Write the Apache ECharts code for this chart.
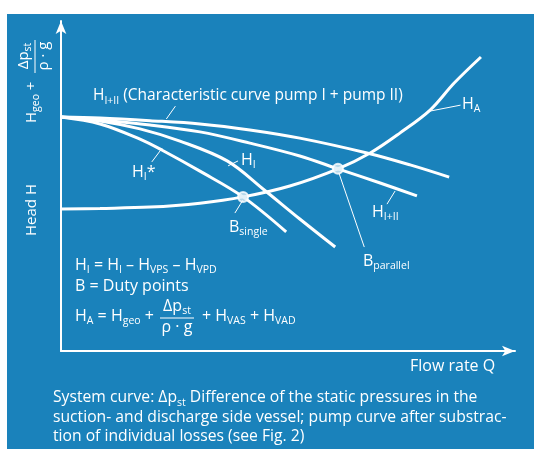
<!DOCTYPE html>
<html><head><meta charset="utf-8">
<script src="https://cdn.jsdelivr.net/npm/echarts@6/dist/echarts.min.js"></script>
<style>
html,body{margin:0;padding:0;background:#fff;}
#c{width:534px;height:449px;background:linear-gradient(#1a82bb,#1a82bb) 7px 14px/527px 435px no-repeat #fff;}
</style></head><body><div id="c"></div>
<script>
// ---- data (flow rate Q in % of axis, head H in % of axis) ----
const Q_HA   = [0, 8.6, 19.6, 30.6, 40.1, 50.4, 61.0, 68.1, 74.7, 81.3, 86.6, 92.5];
const H_HA   = [43.0, 43.2, 43.6, 44.8, 46.7, 50.0, 55.2, 60.0, 66.1, 73.0, 81.2, 89.1];
const Q_HIII = [0, 8.6, 19.6, 30.6, 41.6, 52.6, 67.4, 76.9, 85.5];
const H_HIII = [70.9, 70.6, 69.8, 68.8, 67.0, 64.5, 60.0, 56.4, 52.7];
const Q_HIIIr = [0, 8.6, 19.6, 30.6, 41.6, 52.6, 61.0, 70.3, 78.4];
const H_HIIIr = [70.9, 70.0, 68.5, 66.4, 63.0, 59.1, 55.2, 50.9, 47.0];
const Q_HI   = [0, 8.6, 17.4, 26.2, 36.6, 44.5, 52.6, 60.4];
const H_HI   = [70.9, 69.7, 67.3, 63.6, 57.6, 49.1, 40.0, 31.5];
const Q_HIs  = [0, 8.6, 17.4, 22.2, 30.6, 40.1, 49.6];
const H_HIs  = [70.9, 68.8, 64.2, 60.9, 54.5, 46.7, 36.1];
const Q_duty = [40.1, 61.0];
const H_duty = [46.7, 55.2];
// leader lines: [Q1,H1,Q2,H2]
const leaders = [
  [25.2, 74.2, 23.2, 70.3],
  [81.3, 72.7, 88.0, 74.5],
  [73.6, 48.5, 71.8, 44.5],
  [22.3, 61.5, 20.0, 57.3],
  [36.8, 56.1, 39.0, 57.6],
  [40.1, 45.8, 38.3, 41.8],
  [61.2, 54.0, 66.8, 31.5]
];

const FONT = "'Open Sans', sans-serif";
const W = '#ffffff';
const FS = 16;
const zip = (a, b) => a.map((v, i) => [v, b[i]]);
const RICH = {
  s: {fontSize: 10.5, fontFamily: FONT, fill: W, verticalAlign: 'bottom', height: 6}
};
function txt(x, y, text, extra, fs, align) {
  return Object.assign({
    type: 'text', x: x, y: y, silent: true,
    style: {text: text, fill: W, fontSize: fs || FS, fontFamily: FONT, verticalAlign: 'middle', align: align || 'left', rich: RICH}
  }, extra || {});
}
function hline(x1, y, x2) {
  return {type: 'line', silent: true, shape: {x1: x1, y1: y, x2: x2, y2: y}, style: {stroke: W, lineWidth: 1}};
}

const curve = (q, h) => ({
  type: 'line', data: zip(q, h), smooth: 0.35, symbol: 'none', silent: true,
  lineStyle: {color: W, width: 3}, z: 3
});

const series = [
  curve(Q_HA, H_HA), curve(Q_HIII, H_HIII), curve(Q_HIIIr, H_HIIIr), curve(Q_HI, H_HI), curve(Q_HIs, H_HIs)
];
leaders.forEach(l => series.push({
  type: 'line', data: [[l[0], l[1]], [l[2], l[3]]], symbol: 'none', silent: true,
  lineStyle: {color: W, width: 1}, z: 2
}));
series.push({
  type: 'scatter', data: zip(Q_duty, H_duty), symbol: 'circle', symbolSize: 10, silent: true,
  itemStyle: {color: '#dcedf6', borderColor: W, borderWidth: 2}, z: 5
});

const axisCommon = {
  type: 'value', min: 0, max: 100,
  axisLine: {show: true, onZero: false, lineStyle: {color: W, width: 2}, symbol: ['none', 'arrow'], symbolSize: [8, 13]},
  axisTick: {show: false}, axisLabel: {show: false}, splitLine: {show: false}
};

const graphics = [
  txt(93, 96, 'H{s|I+II} (Characteristic curve pump I + pump II)', null, 15.5),
  txt(462, 104, 'H{s|A}'),
  txt(372, 212, 'H{s|I+II}'),
  txt(132, 172, 'H{s|I}*'),
  txt(241, 160, 'H{s|I}'),
  txt(229, 227, 'B{s|single}'),
  txt(363, 261, 'B{s|parallel}'),
  txt(75, 265, 'H{s|I} = H{s|I} – H{s|VPS} – H{s|VPD}'),
  txt(75, 286, 'B = Duty points'),
  txt(75, 316, 'H{s|A} = H{s|geo} +'),
  txt(177, 306, 'Δp{s|st}', null, FS, 'center'),
  hline(160, 318, 194),
  txt(177, 327, 'ρ · g', null, FS, 'center'),
  txt(202, 316, '+ H{s|VAS} + H{s|VAD}'),
  txt(410, 366, 'Flow rate Q'),
  txt(53, 398, 'System curve: Δp{s|st} Difference of the static pressures in the', null, 15.7),
  txt(53, 418, 'suction- and discharge side vessel; pump curve after substrac-', null, 15.7),
  txt(53, 437, 'tion of individual losses (see Fig. 2)', null, 15.7),
  // y axis title
  {
    type: 'group', x: 32, y: 123, rotation: Math.PI / 2, silent: true,
    children: [
      txt(0, 0, 'H{s|geo} +', null, 15),
      txt(67, -8, 'Δp{s|st}', null, 15, 'center'),
      {type: 'line', silent: true, shape: {x1: 50, y1: 3, x2: 83, y2: 3}, style: {stroke: W, lineWidth: 1}},
      txt(67, 12, 'ρ · g', null, 15, 'center')
    ]
  },
  txt(32, 210, 'Head H', {rotation: Math.PI / 2}, 15, 'center')
];

const chart = echarts.init(document.getElementById('c'), null, {renderer: 'canvas'});
chart.setOption({
  backgroundColor: 'transparent',
  animation: false,
  grid: {left: 61, right: 19, top: 21, bottom: 98},
  xAxis: axisCommon,
  yAxis: axisCommon,
  series: series,
  graphic: graphics
});
</script>
</body></html>
